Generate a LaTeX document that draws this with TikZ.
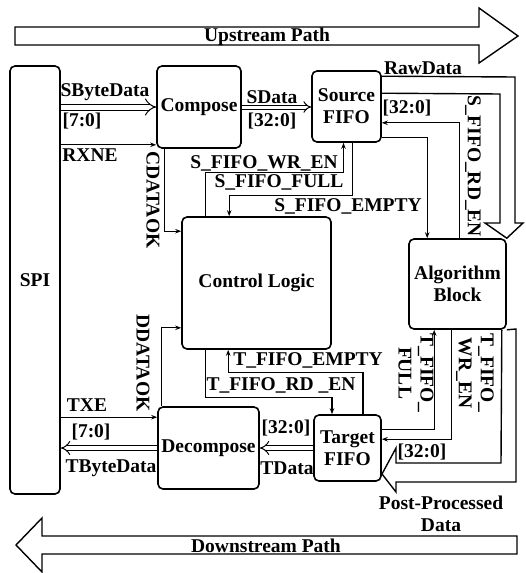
\documentclass[tikz,border=0pt]{standalone}
\usepackage{fontspec}
\setmainfont{Liberation Serif}
\usetikzlibrary{arrows.meta,calc}
\begin{document}
\begin{tikzpicture}[x=1pt,y=-1pt,
  every node/.style={font=\fontsize{19.5}{22}\selectfont\bfseries, inner sep=0pt},
  blk/.style={draw, line width=1.6pt, rounded corners=5pt, align=center},
  sig/.style={line width=1.1pt, -{Stealth[length=6pt,width=4.5pt]}},
  bus/.style={line width=1pt, double, double distance=#1, -{Implies}},
  hollow/.style={line width=1.4pt, line join=miter},
  vlbl/.style={rotate=-90, align=center},
]
\useasboundingbox (0,0) rectangle (525,573);

% blocks
\node[blk, minimum width=50pt, minimum height=428pt] (spi) at (35,280) {SPI};
\node[blk, minimum width=84pt, minimum height=82pt] (compose) at (199,107) {Compose};
\node[blk, minimum width=69pt, minimum height=71pt] (sfifo) at (346.5,106.5) {Source\\FIFO};
\node[blk, minimum width=149pt, minimum height=132pt] (cl) at (256.5,283) {Control Logic};
\node[blk, minimum width=97pt, minimum height=90pt] (algo) at (457.5,284) {Algorithm\\Block};
\node[blk, minimum width=101pt, minimum height=82pt] (decomp) at (208.5,448) {Decompose};
\node[blk, minimum width=67pt, minimum height=66pt] (tfifo) at (347.5,448) {Target\\FIFO};

% big hollow arrows
\draw[hollow] (15,27) -- (479,27) -- (479,8) -- (518,36) -- (479,63) -- (479,45) -- (15,45) -- cycle;
\node (up) at (267,37) {Upstream Path};
\draw[hollow] (517,536) -- (42,536) -- (42,518) -- (16,545) -- (42,572) -- (42,554) -- (517,554) -- cycle;
\node (down) at (266,546) {Downstream Path};

\draw[hollow] ([yshift=-6]sfifo.north east) -- (515,77) -- (515,223) -- (523,223) -- (algo.north east)
  -- (485,223) -- (500,223) -- (500,94) -- ([yshift=-23]sfifo.north east);
\draw[hollow] ([xshift=-5]algo.south east) -- (501,463) -- (396,463) -- (396,448) -- (382,474)
  -- (396,492) -- (396,482) -- (516,482) -- (516,329) -- (algo.south east);

% buses
\draw[bus=5pt] (spi.east |- compose.west) -- (compose.west);
\draw[bus=3pt] (compose.east) -- (sfifo.west |- compose.east);
\draw[bus=4pt] (decomp.west) -- (spi.east |- decomp.west);
\draw[bus=4pt] (tfifo.west) -- (decomp.east |- tfifo.west);

% control signals
\coordinate (rx) at ([yshift=4]compose.south west);
\coordinate (txe) at ([yshift=-11]decomp.north west);
\draw[sig] (spi.east |- rx) -- (rx);
\draw[sig] ([xshift=8]compose.south west) |- ([yshift=-15]cl.north west);
\draw[sig] ([xshift=24]cl.north west) -- ++(0,-44) -| ([xshift=-3]sfifo.south);
\draw[sig] ([xshift=6]sfifo.south) -- ++(0,53) -| ([xshift=48]cl.north west);
\draw[sig] ([yshift=5]sfifo.south east) -| ([xshift=19]algo.north west);
\draw[sig] ([xshift=51]algo.north west) |- ([yshift=20]sfifo.south east);
\draw[sig] ([xshift=15.5]tfifo.north) -- ++(0,-42) -| ([xshift=47]cl.south west);
\draw[sig] ([xshift=24]cl.south west) -- ++(0,48) -| ([xshift=-15.5]tfifo.north);
\draw[sig] ([xshift=4]decomp.north west) |- ([yshift=22]cl.south west);
\draw[sig] (spi.east |- txe) -- (txe);
\draw[sig] ([yshift=-15]tfifo.north east) -| ([xshift=26]algo.south west);
\draw[sig] ([xshift=43]algo.south west) |- ([yshift=-25]tfifo.north east);

% labels
\node (l1) at (105,92) {SByteData};
\node (l2) at (82,121) {[7:0]};
\node (l3) at (90,155) {RXNE};
\node (l4) at (272,97) {SData};
\node (l5) at (272,121) {[32:0]};
\node[vlbl] (l6) at (153,200) {CDATAOK};
\node (l7) at (264,163) {S\_FIFO\_WR\_EN};
\node (l8) at (279,182) {S\_FIFO\_FULL};
\node (l9) at (348,206) {S\_FIFO\_EMPTY};
\node (l10) at (423,68) {RawData};
\node (l11) at (407,108) {[32:0]};
\node[vlbl] (l12) at (473,166) {S\_FIFO\_RD\_EN};
\node (l13) at (308,360) {T\_FIFO\_EMPTY};
\node (l14) at (281,385) {T\_FIFO\_RD \_EN};
\node[vlbl] (l15) at (143,363) {DDATAOK};
\node (l16) at (87,405) {TXE};
\node (l17) at (91,432) {[7:0]};
\node (l18) at (111,468) {TByteData};
\node (l19) at (286,428) {[32:0]};
\node (l20) at (287,468) {TData};
\node[vlbl] (l21) at (416,373) {T\_FIFO\_\\FULL};
\node[vlbl] (l22) at (475,373) {T\_FIFO\_\\WR\_EN};
\node (l23) at (422,452) {[32:0]};
\node[align=center] (l24) at (441,514) {Post-Processed\\Data};
\end{tikzpicture}
\end{document}
